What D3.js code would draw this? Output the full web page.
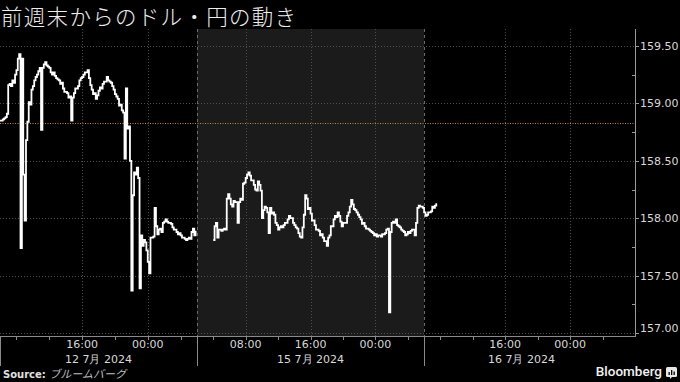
<!DOCTYPE html>
<html><head><meta charset="utf-8">
<script src="https://cdn.jsdelivr.net/npm/d3@7"></script>
<style>
html,body{margin:0;padding:0;background:#000;}
svg{display:block;}
</style></head>
<body>
<svg id="c" width="680" height="382"></svg>
<script>
// ---------------- data ----------------
const titleText = "前週末からのドル・円の動き";
const sourceText = "ブルームバーグ";
const yTickValues = [157.0, 157.5, 158.0, 158.5, 159.0, 159.5];
const prevClose = 158.83;
const intervalMinutes = 10;
const fridayStart = "2024-07-12T06:00";
const mondayStart = "2024-07-15T04:00";
const fridayValues = [
 158.85,158.85,158.86,158.87,158.88,158.91,159.16,159.17,159.15,159.20,
 159.18,159.25,159.29,159.39,159.43,157.74,159.39,158.38,157.98,158.68,
 158.84,159.01,158.99,159.12,159.15,159.20,159.23,159.25,159.28,159.31,
 158.77,159.31,159.34,159.36,159.33,159.32,159.31,159.27,159.25,159.27,
 159.24,159.22,159.21,159.20,159.17,159.18,159.13,159.10,159.10,159.09,
 159.05,159.06,158.85,159.05,159.09,159.13,159.13,159.15,159.20,159.22,
 159.23,159.25,159.27,159.27,159.29,159.22,159.16,159.12,159.08,159.09,
 159.04,159.07,159.11,159.14,159.13,159.17,159.19,159.19,159.23,159.20,
 159.19,159.18,159.15,159.12,159.08,159.06,159.04,158.98,158.99,158.94,
 158.92,158.52,159.13,158.78,158.80,158.50,157.37,158.20,158.40,158.38,
 158.44,158.35,157.39,157.85,157.76,157.81,157.79,157.72,157.62,157.52,
 157.83,157.83,157.84,158.09,157.93,157.86,157.90,157.91,157.88,157.96,
 157.97,157.99,157.97,157.96,157.96,157.95,157.92,157.90,157.90,157.88,
 157.86,157.87,157.85,157.83,157.83,157.82,157.81,157.82,157.83,157.82,
 157.88,157.91,157.85,157.89
];
const mondayValues = [
 157.81,157.93,157.96,157.83,157.90,157.90,157.89,157.90,157.91,157.90,
 158.17,158.21,158.17,158.12,158.10,158.15,158.14,158.14,157.96,158.14,
 158.17,158.16,158.30,158.31,158.35,158.38,158.40,158.37,158.33,158.33,
 158.29,158.25,158.24,158.32,158.29,158.24,158.00,158.07,158.10,158.09,
 158.05,157.87,158.09,158.04,158.05,158.03,157.96,157.94,157.90,157.92,
 157.93,157.92,157.94,157.96,157.96,157.99,158.02,158.00,158.00,157.96,
 157.94,157.92,157.91,157.87,157.84,157.83,157.92,158.03,158.20,158.17,
 158.08,158.09,158.04,157.98,157.98,157.94,157.90,157.90,157.89,157.85,
 157.86,157.83,157.80,157.80,157.76,157.83,157.85,157.93,157.93,157.99,
 158.02,158.01,158.05,158.02,157.97,157.93,157.96,157.96,157.96,158.02,
 158.05,158.10,158.16,158.12,158.08,158.07,158.05,158.03,158.01,157.99,
 157.95,157.96,157.93,157.91,157.91,157.90,157.89,157.88,157.87,157.85,
 157.86,157.84,157.85,157.85,157.84,157.86,157.86,157.87,157.90,157.91,
 157.18,157.88,157.96,157.97,157.96,157.99,157.94,157.93,157.92,157.90,
 157.89,157.88,157.85,157.86,157.88,157.87,157.89,157.90,157.90,157.85,
 157.96,158.09,158.11,158.10,158.10,158.09,158.05,158.02,158.03,158.05,
 158.05,158.06,158.10,158.09,158.11,158.13
];
// compressed time axis: weekend removed
const axisTimes = ["2024-07-12T06:00","2024-07-13T06:00","2024-07-15T02:00","2024-07-17T08:00"];
const dayBounds = ["2024-07-12T06:00","2024-07-13T06:00","2024-07-15T02:00","2024-07-16T06:00","2024-07-17T06:00"];
const dayLabels = ["12 7月 2024", null, "15 7月 2024", "16 7月 2024"];
const holidayRange = ["2024-07-15T02:00","2024-07-16T06:00"];

// ---------------- chart ----------------
const parse = d3.timeParse("%Y-%m-%dT%H:%M");
const svg = d3.select("#c");
const W = 680, H = 382;
const plotL = 0, plotR = 635, plotT = 29, plotB = 336;
const FONT = "'DejaVu Sans', Verdana, sans-serif";

svg.append("rect").attr("width", W).attr("height", H).attr("fill", "#000");

const at = axisTimes.map(parse);
const x = d3.scaleTime().domain(at).range([plotL, 197, 197, plotR]);
const y = d3.scaleLinear().domain([157, 159.5]).range([333, 46]);

function series(start, vals) {
  const t0 = parse(start);
  return vals.map((v, i) => ({ t: d3.timeMinute.offset(t0, i * intervalMinutes), v }));
}
const fri = series(fridayStart, fridayValues);
const mon = series(mondayStart, mondayValues);

// holiday shading
const hr = holidayRange.map(parse);
svg.append("rect")
  .attr("x", x(hr[0])).attr("y", plotT)
  .attr("width", x(hr[1]) - x(hr[0])).attr("height", plotB - plotT)
  .attr("fill", "#1b1b1b");

// ticks every 4h excluding break
const allTicks = d3.timeHour.every(4).range(at[0], at[3]).filter(t => t <= at[1] || t >= at[2]);
const db = dayBounds.map(parse);
const sepX = [x(db[0]), x(db[1]), x(db[3])];
const labeled = allTicks.filter(t => t.getHours() % 8 === 0 && d3.min(sepX, s => Math.abs(x(t) - s)) > 20 && x(t) < plotR - 20);

// horizontal grid
svg.append("g").selectAll("line").data(yTickValues).join("line")
  .attr("x1", plotL).attr("x2", plotR)
  .attr("y1", d => Math.round(y(d)) + 0.5).attr("y2", d => Math.round(y(d)) + 0.5)
  .attr("stroke", "#4d4d4d").attr("stroke-width", 1).attr("stroke-dasharray", "1,2");

// vertical grid
svg.append("g").selectAll("line").data(labeled).join("line")
  .attr("x1", d => Math.round(x(d)) + 0.5).attr("x2", d => Math.round(x(d)) + 0.5)
  .attr("y1", plotT).attr("y2", plotB)
  .attr("stroke", "#4d4d4d").attr("stroke-width", 1).attr("stroke-dasharray", "1,2");

// day divider dashed lines in the plot
svg.append("g").selectAll("line").data([db[1], db[3]]).join("line")
  .attr("x1", d => Math.round(x(d)) + 0.5).attr("x2", d => Math.round(x(d)) + 0.5)
  .attr("y1", plotT).attr("y2", plotB)
  .attr("stroke", "#6a6a6a").attr("stroke-width", 1).attr("stroke-dasharray", "3,3");

// previous close line
svg.append("line")
  .attr("x1", plotL).attr("x2", plotR)
  .attr("y1", Math.round(y(prevClose)) + 0.5).attr("y2", Math.round(y(prevClose)) + 0.5)
  .attr("stroke", "#c8873a").attr("stroke-width", 1).attr("stroke-dasharray", "1,1.5");

// price line
const line = d3.line().x(d => x(d.t)).y(d => y(d.v)).curve(d3.curveStepAfter);
[fri, mon].forEach(s => {
  svg.append("path").datum(s).attr("d", line)
    .attr("fill", "none").attr("stroke", "#ffffff").attr("stroke-width", 1.8)
    .attr("stroke-linejoin", "miter");
});

// x axis
const xa = svg.append("g").attr("transform", `translate(0,${plotB})`);
xa.append("line").attr("x1", plotL).attr("x2", plotR).attr("y1", 0.5).attr("y2", 0.5).attr("stroke", "#8a8a8a");
xa.selectAll("line.tk").data(allTicks).join("line").attr("class", "tk")
  .attr("x1", d => Math.round(x(d)) + 0.5).attr("x2", d => Math.round(x(d)) + 0.5)
  .attr("y1", 1).attr("y2", 4).attr("stroke", "#8a8a8a");
xa.selectAll("line.sep").data(sepX).join("line").attr("class", "sep")
  .attr("x1", d => Math.round(d) + 0.5).attr("x2", d => Math.round(d) + 0.5)
  .attr("y1", 1).attr("y2", 30).attr("stroke", "#8a8a8a");
const fmt = d3.timeFormat("%H:%M");
xa.selectAll("text.tl").data(labeled).join("text").attr("class", "tl")
  .attr("x", d => x(d)).attr("y", 12)
  .attr("text-anchor", "middle").attr("font-family", FONT).attr("font-size", 11)
  .attr("fill", "#d8d8d8").text(d => fmt(d));
// day labels
const dayData = [];
for (let i = 0; i < db.length - 1; i++) if (dayLabels[i]) dayData.push({ a: db[i], b: db[i + 1], s: dayLabels[i] });
xa.selectAll("text.dl").data(dayData).join("text").attr("class", "dl")
  .attr("x", d => (x(d.a) + x(d.b)) / 2).attr("y", 27)
  .attr("text-anchor", "middle").attr("font-family", FONT).attr("font-size", 11)
  .attr("fill", "#d8d8d8").text(d => d.s);

// right y axis
const ya = svg.append("g");
ya.append("line").attr("x1", plotR + 0.5).attr("x2", plotR + 0.5).attr("y1", plotT).attr("y2", plotB + 1).attr("stroke", "#9a9a9a");
const minor = d3.range(157.25, 159.5, 0.5);
ya.selectAll("line.mn").data(minor).join("line").attr("class", "mn")
  .attr("x1", plotR - 3).attr("x2", plotR)
  .attr("y1", d => Math.round(y(d)) + 0.5).attr("y2", d => Math.round(y(d)) + 0.5).attr("stroke", "#9a9a9a");
ya.selectAll("line.mj").data(yTickValues).join("line").attr("class", "mj")
  .attr("x1", plotR).attr("x2", plotR + 4)
  .attr("y1", d => Math.round(y(d)) + 0.5).attr("y2", d => Math.round(y(d)) + 0.5).attr("stroke", "#9a9a9a");
ya.selectAll("text").data(yTickValues).join("text")
  .attr("x", plotR + 5).attr("y", d => y(d) + (d === 157 ? -1 : 4))
  .attr("font-family", FONT).attr("font-size", 11).attr("fill", "#d8d8d8")
  .text(d => d3.format(".2f")(d));

// title
svg.append("text").attr("x", 1).attr("y", 25)
  .attr("font-family", "'Noto Sans CJK JP', sans-serif").attr("font-weight", 300)
  .attr("font-size", 21.5).attr("letter-spacing", 1.3).attr("fill", "#ececec").text(titleText);

// source
const src = svg.append("text").attr("x", 3).attr("y", 378).attr("font-size", 10);
src.append("tspan").attr("font-family", FONT).attr("font-weight", "bold").attr("fill", "#e0e0e0").text("Source: ");
src.append("tspan").attr("font-family", "'Noto Sans CJK JP', sans-serif").attr("font-style", "italic")
  .attr("font-size", 11).attr("fill", "#bdbdbd").text(sourceText);

// Bloomberg logo
svg.append("text").attr("x", 662).attr("y", 376).attr("text-anchor", "end")
  .attr("font-family", "Roboto, sans-serif").attr("font-weight", 500).attr("font-size", 13.5)
  .attr("fill", "#f2f2f2").text("Bloomberg");
const ic = svg.append("g").attr("transform", "translate(666,367)");
ic.append("rect").attr("width", 11).attr("height", 10).attr("rx", 1.5).attr("fill", "#e8e8e8");
ic.append("path").attr("d", "M4,12 L4,9 L6,10 L4,12Z").attr("fill", "#e8e8e8");
[[2.5, 5, 3], [5, 3, 5], [7.5, 4.5, 3.5]].forEach(([bx, by, bh]) => {
  ic.append("rect").attr("x", bx).attr("y", by).attr("width", 1.3).attr("height", bh).attr("fill", "#000");
});
</script>
</body></html>
